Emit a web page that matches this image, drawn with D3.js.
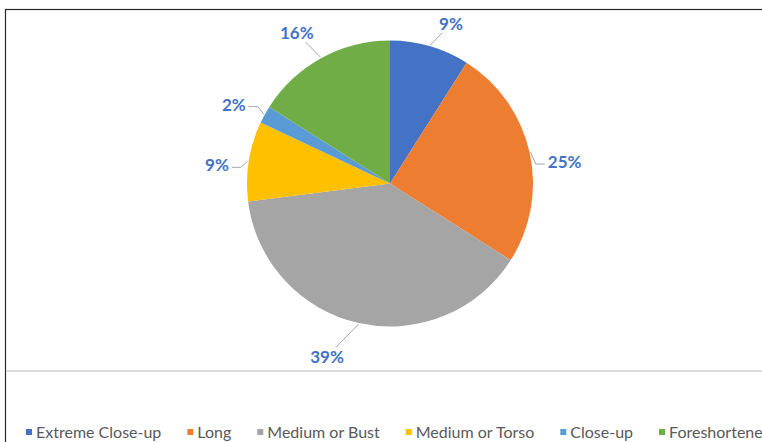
<!DOCTYPE html>
<html>
<head>
<meta charset="utf-8">
<script src="https://cdn.jsdelivr.net/npm/d3@7/dist/d3.min.js"></script>
<style>
  html, body { margin: 0; padding: 0; background: #fff; }
  svg { display: block; }
</style>
</head>
<body>
<svg id="chart" width="762" height="442"></svg>
<script>
// Shot types and their share of the sample (percent)
const categories = ["Extreme Close-up", "Long", "Medium or Bust", "Medium or Torso", "Close-up", "Foreshortened"];
const shares = [9, 25, 39, 9, 2, 16];
const sliceColors = ["#4472C4", "#ED7D31", "#A5A5A5", "#FFC000", "#5B9BD5", "#70AD47"];

// Hand-tuned label placement: angular shift (degrees) and extra radius (px) per label
const labelAngleShift = [4.7, 5.6, 7.4, -3, -2, -3];
const labelRadiusShift = [-5, 0, 8, -2, -1, 1];

const W = 762, H = 442;
const cx = 390, cy = 183.5, radius = 143;

const svg = d3.select("#chart");

// Chart frame
svg.append("rect")
  .attr("x", 5.5).attr("y", 9.5)
  .attr("width", W + 10).attr("height", H + 10)
  .attr("fill", "#fff").attr("stroke", "#262626").attr("stroke-width", 1.2);

// Divider above the legend
svg.append("line")
  .attr("x1", 6).attr("x2", W)
  .attr("y1", 371).attr("y2", 371)
  .attr("stroke", "#dcdcdc").attr("stroke-width", 2);

const data = categories.map((c, i) => ({ name: c, value: shares[i], color: sliceColors[i], idx: i }));

const pie = d3.pie().value(d => d.value).sort(null);
const arcs = pie(data);
const arc = d3.arc().innerRadius(0).outerRadius(radius);

const g = svg.append("g").attr("transform", `translate(${cx},${cy})`);

g.selectAll("path.slice")
  .data(arcs)
  .join("path")
  .attr("class", "slice")
  .attr("d", arc)
  .attr("fill", d => d.data.color);

// Data labels with leader lines
const labelLayer = g.append("g");
const toXY = (ang, r) => [r * Math.sin(ang), -r * Math.cos(ang)];

arcs.forEach((a, i) => {
  const mid = (a.startAngle + a.endAngle) / 2;
  const la = mid + labelAngleShift[i] * Math.PI / 180;
  const lr = radius + 33 + labelRadiusShift[i];
  const [lx, ly] = toXY(la, lr);

  const txt = labelLayer.append("text")
    .attr("x", lx).attr("y", ly)
    .attr("dy", "0.36em")
    .attr("text-anchor", "middle")
    .attr("font-family", "Lato, 'Open Sans', sans-serif")
    .attr("font-weight", "bold")
    .attr("font-size", 17)
    .attr("fill", "#4472C4")
    .text(d3.format(".0f")(a.data.value) + "%");

  const tw = txt.node().getComputedTextLength();
  const hw = tw / 2 + 3, hh = 9;
  const [ex, ey] = toXY(mid, radius + 1);
  const dx = ex - lx, dy = ey - ly;
  const tSide = Math.abs(dx) > 0 ? hw / Math.abs(dx) : Infinity;
  const tTop = Math.abs(dy) > 0 ? hh / Math.abs(dy) : Infinity;

  let pts;
  if (tSide < tTop) {
    const s = Math.sign(dx);
    const end = [lx + s * hw, ly + 2];
    const elbow = [end[0] + s * 9, end[1]];
    pts = [[ex, ey], elbow, end];
  } else {
    const t = tTop;
    pts = [[ex, ey], [lx + dx * t, ly + dy * t]];
  }
  labelLayer.append("path")
    .attr("d", d3.line()(pts))
    .attr("fill", "none")
    .attr("stroke", "#A6A6A6")
    .attr("stroke-width", 1);
});

// Legend
const legend = svg.append("g").attr("transform", "translate(0,432)");
let lxPos = 26;
data.forEach(d => {
  const item = legend.append("g").attr("transform", `translate(${lxPos},0)`);
  item.append("rect")
    .attr("x", 0).attr("y", -3)
    .attr("width", 6).attr("height", 6)
    .attr("fill", d.color);
  const t = item.append("text")
    .attr("x", 10).attr("y", 0)
    .attr("dy", "0.35em")
    .attr("font-family", "Lato, 'Open Sans', sans-serif")
    .attr("font-size", 16)
    .attr("fill", "#595959")
    .text(d.name);
  lxPos += 10 + t.node().getComputedTextLength() + 26;
});
</script>
</body>
</html>
